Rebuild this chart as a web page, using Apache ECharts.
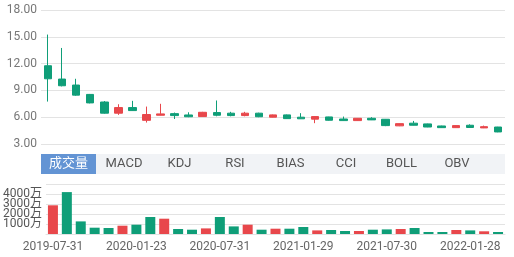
<!DOCTYPE html>
<html><head><meta charset="utf-8">
<script src="https://cdn.jsdelivr.net/npm/echarts@6/dist/echarts.min.js"></script>
<style>html,body{margin:0;padding:0;background:#fff}#c{width:514px;height:257px}</style>
</head><body><div id="c"></div>
<script>
const dates = ['2019-07-31','2019-08-30','2019-09-30','2019-10-31','2019-11-29','2019-12-31','2020-01-23','2020-02-28','2020-03-31','2020-04-30','2020-05-29','2020-06-30','2020-07-31','2020-08-31','2020-09-30','2020-10-30','2020-11-30','2020-12-31','2021-01-29','2021-02-26','2021-03-31','2021-04-30','2021-05-31','2021-06-30','2021-07-30','2021-08-31','2021-09-30','2021-10-29','2021-11-30','2021-12-31','2022-01-28','2022-02-28','2022-03-31'];
const opens  = [11.76,10.27,9.6,8.55,7.7,6.45,7.08,5.65,6.22,6.4,6.25,6.07,6.52,6.45,6.18,6.45,6.0,6.26,6.0,5.78,6.03,5.8,5.62,5.88,5.77,5.03,5.33,5.25,5.02,4.83,5.1,4.8,4.9];
const closes = [10.3,9.52,8.47,7.6,6.45,7.08,6.74,6.3,6.37,6.18,6.05,6.55,6.22,6.18,6.45,6.05,6.26,5.84,5.82,6.07,5.66,5.62,5.88,5.7,5.06,5.28,5.1,4.9,4.83,5.06,4.85,4.94,4.35];
const lows   = [7.75,9.45,8.4,7.55,6.4,6.26,6.7,5.4,6.2,5.8,6.0,6.05,6.1,6.1,6.1,6.0,5.98,5.8,5.8,5.33,5.62,5.6,5.6,5.68,5.0,5.0,5.08,4.88,4.8,4.8,4.82,4.78,4.32];
const highs  = [15.25,13.75,10.3,8.6,7.8,7.45,7.83,7.19,7.5,6.52,6.55,6.6,7.87,6.6,6.6,6.5,6.3,6.3,6.45,6.1,6.05,6.07,5.9,6.0,5.8,5.3,5.58,5.28,5.05,5.08,5.2,5.06,4.92];
const volumes = [2870,4190,1260,630,600,830,930,1700,1530,500,430,560,1700,760,930,430,530,530,700,360,400,300,300,430,460,500,600,200,200,400,360,270,200]; // 万
const priceTicks = [3,18,3];
const volTicks = [0,5000,1000];
const tabs = ['成交量','MACD','KDJ','RSI','BIAS','CCI','BOLL','OBV'];

const RED = '#e8474b', GREEN = '#0f9e78';
const FONT = 'Roboto, "Noto Sans CJK SC", sans-serif';
const kData = dates.map((d,i)=>[opens[i],closes[i],lows[i],highs[i]]);
const volData = volumes.map((v,i)=>({value:v,itemStyle:{color:(i===0||closes[i]>=closes[i-1])?RED:GREEN}}));

const tabGraphics = [
  {type:'rect',shape:{x:41,y:154,width:464,height:20},style:{fill:'#f1f3f6'},silent:true},
  {type:'rect',shape:{x:41,y:154,width:55,height:20},style:{fill:'#6394d4'},silent:true}
];
tabs.forEach((t,i)=>{
  tabGraphics.push({type:'text',x:68.5+i*55.5,y:164,style:{text:t,fill:i===0?'#fff':'#555',font:'13px '+FONT,textAlign:'center',textVerticalAlign:'middle'},silent:true});
});

const chart = echarts.init(document.getElementById('c'));
chart.setOption({
  animation:false,
  textStyle:{fontFamily:FONT},
  grid:[{left:41,right:9,top:10,height:134},{left:41,right:9,top:184,height:50}],
  xAxis:[
    {type:'category',gridIndex:0,data:dates,boundaryGap:true,axisLine:{show:false},axisTick:{show:false},axisLabel:{show:false},splitLine:{show:false}},
    {type:'category',gridIndex:1,data:dates,boundaryGap:true,axisLine:{show:true,lineStyle:{color:'#e3e3e3'}},axisTick:{show:false},
     axisLabel:{interval:5,color:'#666',fontSize:12,margin:7,fontFamily:FONT},splitLine:{show:false}}
  ],
  yAxis:[
    {type:'value',gridIndex:0,min:priceTicks[0],max:priceTicks[1],interval:priceTicks[2],axisLine:{show:false},axisTick:{show:false},
     axisLabel:{color:'#777',fontSize:12,margin:4,formatter:v=>v.toFixed(2)},splitLine:{lineStyle:{color:'#e3e3e3'}}},
    {type:'value',gridIndex:1,min:volTicks[0],max:volTicks[1],interval:volTicks[2],axisLine:{show:false},axisTick:{show:false},
     axisLabel:{color:'#555',fontSize:12,margin:4,lineHeight:10,formatter:v=>(v===0||v===volTicks[1])?'':v+'万'},splitLine:{lineStyle:{color:'#e3e3e3'}}}
  ],
  series:[
    {type:'candlestick',xAxisIndex:0,yAxisIndex:0,data:kData,barWidth:8,
     itemStyle:{color:RED,color0:GREEN,borderColor:RED,borderColor0:GREEN,borderWidth:1}},
    {type:'bar',xAxisIndex:1,yAxisIndex:1,data:volData,barWidth:10}
  ],
  graphic:tabGraphics
});
</script></body></html>
